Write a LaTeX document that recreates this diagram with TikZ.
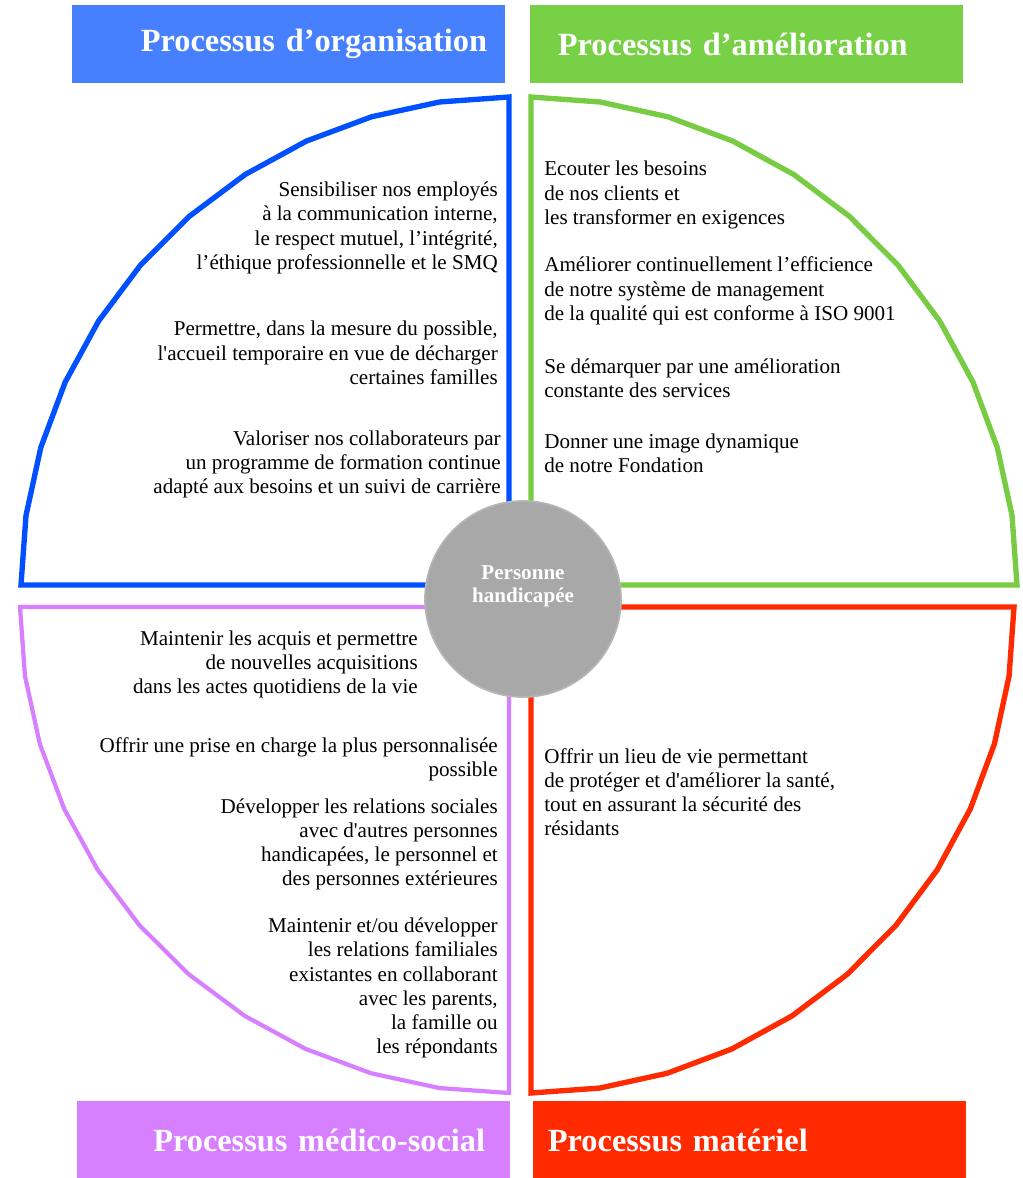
\documentclass[tikz,border=0pt]{standalone}
\usepackage{fontspec}
\setmainfont{Liberation Serif}[Ligatures=TeXOff]
\usetikzlibrary{positioning}
\definecolor{orgcolor}{RGB}{70,128,255}
\definecolor{orgline}{RGB}{0,80,255}
\definecolor{amecolor}{RGB}{119,208,69}
\definecolor{ameline}{RGB}{119,204,68}
\definecolor{medcolor}{RGB}{214,128,255}
\definecolor{matcolor}{RGB}{255,42,0}
\definecolor{hubcolor}{RGB}{168,168,168}
\definecolor{hubborder}{RGB}{182,182,182}
\tikzset{
  headbox/.style={fill=#1, text=white, minimum height=1.95cm, inner ysep=0pt,
    font=\fontsize{23}{27}\selectfont\bfseries},
  quadline/.style={draw=#1, line width=3.8pt},
  rtext/.style={anchor=base east, align=right, inner sep=0pt, font=\fontsize{15}{17.07}\selectfont},
  ltext/.style={anchor=base west, align=left, inner sep=0pt, font=\fontsize{15}{17.07}\selectfont},
  hub/.style={circle, fill=hubcolor, draw=hubborder, line width=1.2pt, minimum size=4.9cm, inner sep=0pt},
  hubtext/.style={align=center, text=white, inner sep=0pt, font=\fontsize{15}{16.4}\selectfont\bfseries}
}
\begin{document}
\begin{tikzpicture}[x=0.025cm, y=-0.025cm]
    \useasboundingbox (0,0) rectangle (1023,1178);

    % Quadrants
    \draw[quadline=orgline] plot[domain=0:90, samples=12] ({509-488*cos(\x)},{585-488*sin(\x)}) -- (509,585) -- cycle;
    \draw[quadline=ameline] plot[domain=0:90, samples=12] ({531+486*cos(\x)},{585-488*sin(\x)}) -- (531,585) -- cycle;
    \draw[quadline=medcolor, line width=3pt] plot[domain=0:90, samples=12] ({509-489*cos(\x)},{607+486*sin(\x)}) -- (509,607) -- cycle;
    \draw[quadline=matcolor] plot[domain=0:90, samples=12] ({531+483*cos(\x)},{607+486*sin(\x)}) -- (531,607) -- cycle;

    % Titles
    \node[headbox=orgcolor, minimum width=10.825cm, text width=9.925cm, inner xsep=0.45cm, align=right] (orgtitle) at (288.5,44) {Processus d’organisation};
    \node[headbox=amecolor, minimum width=10.825cm, text width=9.425cm, inner xsep=0.7cm, align=left] (ametitle) at (746.5,44) {Processus d’amélioration};
    \node[headbox=medcolor, minimum width=10.825cm, text width=9.575cm, inner xsep=0.625cm, align=right] (medtitle) at (293.5,1140) {Processus médico-social};
    \node[headbox=matcolor, minimum width=10.825cm, text width=10.075cm, inner xsep=0.375cm, align=left] (mattitle) at (749.5,1140) {Processus matériel};

    % Organisation (y = baseline of last line)
    \node[rtext] (org1) at (498,269) {Sensibiliser nos employés\\à la communication interne,\\le respect mutuel, l’intégrité,\\l’éthique  professionnelle et le SMQ};
    \node[rtext] (org2) at (498,384) {Permettre, dans la mesure du possible,\\l'accueil temporaire en vue de décharger\\certaines familles};
    \node[rtext] (org3) at (501,493) {Valoriser nos collaborateurs par\\un programme de formation continue\\adapté aux besoins et un suivi de carrière};

    % Amelioration
    \node[ltext] (ame1) at (544,224) {Ecouter les besoins\\de nos clients et\\les transformer en exigences};
    \node[ltext] (ame2) at (544,320) {Améliorer continuellement l’efficience\\de notre  système de management\\de la qualité qui est conforme à ISO 9001};
    \node[ltext] (ame3) at (544,397) {Se démarquer par une amélioration\\constante des services};
    \node[ltext] (ame4) at (544,472) {Donner une image dynamique\\de notre Fondation};

    % Medico-social
    \node[rtext] (med1) at (418,693) {Maintenir les acquis et permettre\\de nouvelles acquisitions\\dans les actes quotidiens de la vie};
    \node[rtext] (med2) at (498,776) {Offrir une prise en charge la plus personnalisée\\possible};
    \node[rtext] (med3) at (498,885) {Développer les relations sociales\\avec d'autres personnes\\handicapées, le personnel et\\des personnes extérieures};
    \node[rtext] (med4) at (498,1053) {Maintenir et/ou développer\\les relations familiales\\existantes en collaborant\\avec les parents,\\la famille ou\\les répondants};

    % Materiel
    \node[ltext] (mat1) at (544,835) {Offrir un lieu de vie permettant\\de protéger et d'améliorer la santé,\\tout en assurant la sécurité des\\résidants};

    % Center
    \node[hub] (person) at (523,599) {};
    \node[hubtext] (personlabel) at ([yshift=0.325cm]person.center) {Personne\\handicapée};
\end{tikzpicture}
\end{document}
